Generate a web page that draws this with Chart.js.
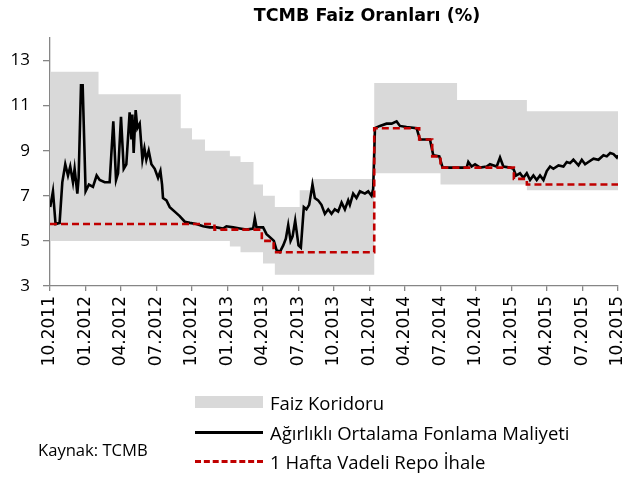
<!DOCTYPE html>
<html>
<head>
<meta charset="utf-8">
<script src="https://cdn.jsdelivr.net/npm/chart.js@4.4.1/dist/chart.umd.min.js"></script>
<style>
  body { margin: 0; background: #fff; }
  #wrap { position: relative; width: 622px; height: 477px; font-family: "Open Sans", sans-serif; color: #000; }
  #title { position: absolute; top: 5px; left: 217px; width: 300px; line-height: 20px; text-align: center; font-family: "DejaVu Sans", sans-serif; font-weight: bold; font-size: 17.5px; }
  .row { position: absolute; left: 195px; height: 22px; display: flex; align-items: center; font-size: 18.5px; white-space: nowrap; }
  .sw { width: 68px; margin-right: 7px; }
  #source { position: absolute; left: 38px; top: 438px; font-size: 16.6px; }
</style>
</head>
<body>
<div id="wrap">
  <canvas id="faiz-chart" width="622" height="477"></canvas>
  <div id="title">TCMB Faiz Oranları (%)</div>
  <div class="row" style="top:391px"><span class="sw" style="height:12px;background:#d9d9d9"></span>Faiz Koridoru</div>
  <div class="row" style="top:421px"><span class="sw" style="height:3px;background:#000"></span>Ağırlıklı Ortalama Fonlama Maliyeti</div>
  <div class="row" style="top:450px"><span class="sw" style="height:0;border-top:3px dashed #c00000"></span>1 Hafta Vadeli Repo İhale</div>
  <div id="source">Kaynak: TCMB</div>
</div>
<script>
// months counted from 10.2011
const tickMonths = [0, 3, 6, 9, 12, 15, 18, 21, 24, 27, 30, 33, 36, 39, 42, 45, 48];
const tickLabels = ['10.2011', '01.2012', '04.2012', '07.2012', '10.2012', '01.2013', '04.2013', '07.2013',
    '10.2013', '01.2014', '04.2014', '07.2014', '10.2014', '01.2015', '04.2015', '07.2015', '10.2015'];
const yTicks = [3, 5, 7, 9, 11, 13];

const bandMonths = [0, 4.1, 11.05, 12.0, 13.1, 15.2, 16.1, 17.2, 18.0, 19.0, 21.1, 22.1, 27.4, 33.0, 34.4, 40.3, 48];
const bandUpper = [12.5, 11.5, 10, 9.5, 9, 8.75, 8.5, 7.5, 7, 6.5, 7.25, 7.75, 12, 12, 11.25, 10.75, 10.75];
const bandLower = [5, 5, 5, 5, 5, 4.75, 4.5, 4.5, 4, 3.5, 3.5, 3.5, 8, 7.5, 7.5, 7.25, 7.25];

const repoMonths = [0, 13.9, 17.9, 18.9, 27.4, 31.2, 32.3, 33.0, 39.2, 40.3, 48];
const repoRates = [5.75, 5.5, 5, 4.5, 10, 9.5, 8.75, 8.25, 7.75, 7.5, 7.5];

const fundMonths = [0.02, 0.25, 0.47, 0.81, 1.04, 1.29, 1.52, 1.71, 1.94, 2.08, 2.31, 2.42, 2.62, 2.76, 3.01,
    3.29, 3.63, 3.94, 4.2, 4.62, 5.04, 5.35, 5.58, 5.75, 6.0, 6.23, 6.45, 6.73, 6.88, 6.96, 7.07, 7.24, 7.38,
    7.58, 7.81, 7.98, 8.14, 8.34, 8.57, 8.85, 9.13, 9.33, 9.47, 9.55, 9.84, 10.12, 10.54, 10.96, 11.39, 11.81,
    12.37, 12.94, 13.5, 14.07, 14.63, 14.91, 15.48, 16.04, 16.6, 17.17, 17.31, 17.45, 18.01, 18.3, 18.72, 18.92,
    19.14, 19.42, 19.71, 19.93, 20.13, 20.33, 20.5, 20.72, 21.0, 21.2, 21.45, 21.67, 21.9, 22.18, 22.38, 22.66,
    22.94, 23.23, 23.51, 23.79, 24.07, 24.35, 24.64, 24.92, 25.2, 25.34, 25.62, 25.9, 26.19, 26.61, 26.89,
    27.17, 27.31, 27.46, 27.88, 28.44, 28.87, 29.29, 29.57, 30.13, 30.98, 31.26, 32.11, 32.39, 32.9, 33.18,
    35.21, 35.35, 35.63, 35.92, 36.34, 36.9, 37.18, 37.75, 38.03, 38.31, 38.88, 39.16, 39.38, 39.72, 40.0,
    40.29, 40.57, 40.85, 41.13, 41.41, 41.7, 41.98, 42.26, 42.54, 42.97, 43.39, 43.67, 43.95, 44.23, 44.66,
    44.94, 45.22, 45.5, 45.93, 46.35, 46.77, 47.05, 47.34, 47.62, 47.9, 48.0];
const fundRates = [6.5, 7.2, 5.75, 5.8, 7.6, 8.4, 7.9, 8.3, 7.6, 8.2, 7.1, 7.8, 11.9, 11.9, 7.2,
    7.5, 7.4, 7.9, 7.7, 7.6, 7.6, 10.3, 7.7, 8.0, 10.5, 8.2, 8.4, 10.7, 9.5, 10.6, 8.9, 10.8, 10.0,
    10.2, 8.6, 9.1, 8.6, 9.0, 8.4, 8.2, 7.8, 8.1, 7.5, 6.9, 6.8, 6.5, 6.3, 6.1, 5.85, 5.8,
    5.75, 5.65, 5.6, 5.6, 5.55, 5.65, 5.6, 5.55, 5.5, 5.55, 6.0, 5.6, 5.6, 5.3, 5.1, 5.0,
    4.6, 4.5, 4.8, 5.1, 5.7, 5.0, 5.2, 5.9, 4.8, 4.7, 6.5, 6.4, 6.6, 7.5, 6.9, 6.8,
    6.6, 6.2, 6.4, 6.2, 6.4, 6.3, 6.7, 6.4, 6.8, 6.6, 7.1, 6.9, 7.2, 7.1, 7.2,
    7.0, 7.3, 10.0, 10.1, 10.2, 10.2, 10.3, 10.1, 10.05, 10.0, 9.5, 9.5, 8.8, 8.75, 8.25,
    8.25, 8.5, 8.3, 8.4, 8.25, 8.3, 8.4, 8.3, 8.7, 8.3, 8.25, 8.2, 7.9, 8.0, 7.8,
    8.0, 7.7, 7.9, 7.7, 7.9, 7.7, 8.1, 8.3, 8.2, 8.35, 8.3, 8.5, 8.45, 8.6, 8.35,
    8.6, 8.4, 8.5, 8.65, 8.6, 8.8, 8.75, 8.9, 8.85, 8.7, 8.8, 8.8];

const pts = (xs, ys) => xs.map((x, i) => ({ x, y: ys[i] }));
const axisGrey = '#868686';

new Chart(document.getElementById('faiz-chart').getContext('2d'), {
    type: 'line',
    data: {
        datasets: [
            { data: pts(bandMonths, bandLower), stepped: 'before', borderWidth: 0, pointRadius: 0, fill: false, order: 4 },
            { data: pts(bandMonths, bandUpper), stepped: 'before', borderWidth: 0, pointRadius: 0, fill: '-1', backgroundColor: '#d9d9d9', order: 3 },
            { data: pts(fundMonths, fundRates), borderColor: '#000', borderWidth: 2.6, pointRadius: 0, tension: 0, order: 2 },
            { data: pts(repoMonths, repoRates), stepped: 'before', borderColor: '#c00000', borderWidth: 2.6, borderDash: [7, 4], pointRadius: 0, order: 1 },
        ],
    },
    options: {
        responsive: false,
        animation: false,
        devicePixelRatio: 1,
        layout: { padding: { top: 38, right: 4, left: 0, bottom: 0 } },
        plugins: { legend: { display: false }, tooltip: { enabled: false } },
        scales: {
            x: {
                type: 'linear', min: 0, max: 48,
                afterBuildTicks: (s) => { s.ticks = tickMonths.map((v) => ({ value: v })); },
                afterFit: (s) => { s.height = 191; s.paddingLeft = 0; s.paddingRight = 0; },
                ticks: {
                    autoSkip: false, minRotation: 90, maxRotation: 90, padding: 5, color: '#000',
                    font: { family: 'DejaVu Sans', size: 17 },
                    callback: (v, i) => tickLabels[i],
                },
                grid: { drawOnChartArea: false, drawTicks: true, tickLength: 5, color: axisGrey, lineWidth: 1.3 },
                border: { color: axisGrey, width: 1.3 },
            },
            y: {
                min: 3, max: 14,
                afterBuildTicks: (s) => { s.ticks = yTicks.map((v) => ({ value: v })); },
                afterFit: (s) => { s.width = 50; s.paddingTop = 0; s.paddingBottom = 0; },
                ticks: { padding: 13, color: '#000', font: { family: 'Open Sans', size: 17 } },
                grid: { drawOnChartArea: false, drawTicks: true, tickLength: 7, color: axisGrey, lineWidth: 1.3 },
                border: { color: axisGrey, width: 1.3 },
            },
        },
    },
});
</script>
</body>
</html>
